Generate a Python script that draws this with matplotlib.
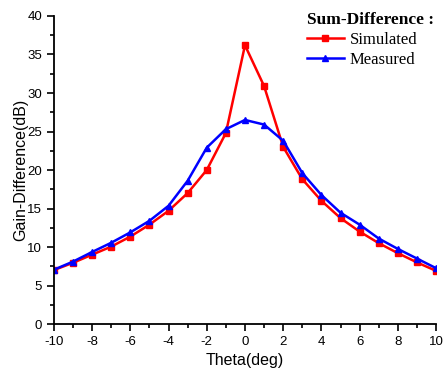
import matplotlib.pyplot as plt
from matplotlib.ticker import MultipleLocator

plt.rcParams['axes.unicode_minus'] = False

# Dane
theta = [-10, -9, -8, -7, -6, -5, -4, -3, -2, -1, 0, 1, 2, 3, 4, 5, 6, 7, 8, 9, 10]
simulated = [7.0, 7.95, 9.0, 10.05, 11.35, 12.9, 14.7, 17.0, 20.0, 24.8, 36.2, 30.9,
             23.0, 18.8, 16.0, 13.75, 12.0, 10.5, 9.2, 8.0, 6.9]
measured = [7.05, 8.1, 9.35, 10.55, 11.9, 13.4, 15.35, 18.6, 22.9, 25.3, 26.5, 25.9,
            23.8, 19.6, 16.75, 14.45, 12.9, 11.1, 9.75, 8.5, 7.25]

fig = plt.figure(figsize=(4.45, 3.72), dpi=100)
ax = fig.add_axes([0.121, 0.129, 0.859, 0.828])

ax.plot(theta, simulated, color='#ff0000', marker='s', markersize=4.5, linewidth=1.8,
        label='Simulated')
ax.plot(theta, measured, color='#0000ff', marker='^', markersize=5, linewidth=1.8,
        label='Measured')

ax.set_xlim(-10, 10)
ax.set_ylim(0, 40)
ax.xaxis.set_major_locator(MultipleLocator(2))
ax.xaxis.set_minor_locator(MultipleLocator(1))
ax.yaxis.set_major_locator(MultipleLocator(5))
ax.yaxis.set_minor_locator(MultipleLocator(2.5))
ax.tick_params(which='both', direction='out', labelsize=9.5, width=1.2)
ax.tick_params(which='major', length=5)
ax.tick_params(which='minor', length=3)
for s in ['top', 'right']:
    ax.spines[s].set_visible(False)
for s in ['left', 'bottom']:
    ax.spines[s].set_linewidth(1.3)

ax.set_xlabel('Theta(deg)', fontsize=11.5, family='Liberation Sans')
ax.set_ylabel('Gain-Difference(dB)', fontsize=11.5, family='Liberation Sans',
              labelpad=-1)
for lbl in ax.get_xticklabels() + ax.get_yticklabels():
    lbl.set_family('Liberation Sans')

leg = ax.legend(title='Sum-Difference :', loc='upper left', frameon=False,
                prop={'family': 'Liberation Serif', 'size': 12},
                bbox_to_anchor=(0.645, 1.035), handlelength=2.2, handletextpad=0.35,
                labelspacing=0.25, alignment='left', borderaxespad=0)
leg.get_title().set_fontfamily('Liberation Serif')
leg.get_title().set_fontweight('bold')
leg.get_title().set_fontsize(12.5)

plt.savefig('out.png', dpi=100)
